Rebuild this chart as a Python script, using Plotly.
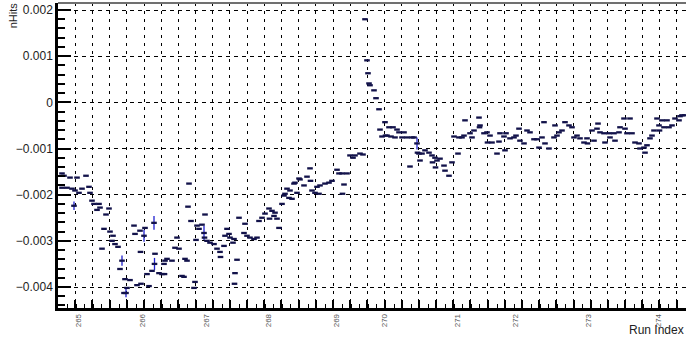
import plotly.graph_objects as go

# ---------------- data ----------------
run_index = [1.2, 1.2, 2.0, 3.2, 4.4, 5.2, 6.0, 6.4, 7.2, 8.0, 9.2, 10.8, 12.0, 12.4, 13.2, 14.0, 15.2, 16.0, 16.4,
             17.2, 18.0, 18.8, 20.0, 20.4, 21.2, 21.6, 22.4, 23.6, 24.4, 25.2, 26.0, 26.4, 26.8, 27.2, 28.4, 30.0,
             30.4, 31.2, 32.4, 32.6, 32.8, 34.0, 34.4, 35.2, 36.0, 37.2, 38.0, 38.2, 38.4, 40.0, 41.2, 42.0, 42.2,
             42.4, 43.2, 45.2, 46.4, 47.2, 48.0, 49.2, 50.0, 50.4, 51.2, 51.6, 52.0, 52.8, 54.0, 54.4, 54.8, 55.2,
             56.0, 57.2, 58.0, 58.2, 58.4, 59.2, 60.4, 62.0, 63.2, 64.4, 64.6, 66.0, 66.4, 67.2, 68.0, 68.4, 69.6,
             70.0, 70.2, 70.4, 71.2, 72.0, 74.0, 74.4, 75.2, 76.4, 78.0, 79.2, 80.0, 81.2, 82.4, 84.0, 84.2, 85.2,
             86.0, 86.4, 87.2, 88.0, 89.2, 90.0, 90.4, 91.2, 92.0, 92.4, 93.2, 94.0, 94.4, 95.2, 96.0, 96.4, 98.0,
             99.2, 100.4, 100.6, 101.2, 102.4, 103.2, 104.0, 104.4, 106.4, 108.0, 109.2, 111.2, 112.0, 113.2, 113.4,
             114.0, 115.2, 116.4, 117.6, 118.4, 120.4, 121.6, 122.4, 123.2, 123.6, 124.0, 124.4, 126.0, 126.8, 128.0,
             128.4, 129.2, 130.4, 130.6, 131.2, 132.0, 132.8, 133.6, 134.4, 135.2, 136.0, 137.2, 138.0, 139.2, 140.4,
             141.2, 142.0, 143.2, 143.4, 144.0, 144.4, 145.2, 146.4, 148.0, 149.2, 149.4, 150.4, 150.6, 151.2, 152.4,
             154.0, 154.4, 156.0, 157.2, 158.0, 159.6, 160.0, 161.2, 162.0, 162.4, 164.4, 165.2, 166.0, 168.0, 168.2,
             168.4, 170.0, 171.2, 171.4, 172.4, 173.2, 175.2, 176.0, 176.4, 178.0, 178.4, 178.8, 180.4, 182.0, 182.8,
             184.0, 184.4, 186.0, 187.2, 188.4, 190.0, 191.2, 192.0, 193.2, 194.0, 194.4, 196.0, 198.0, 198.4, 199.2,
             200.0, 201.2, 202.4, 204.0, 205.2, 206.0, 207.2, 208.4, 210.0, 211.2, 211.4, 213.2, 214.0, 215.2, 215.6,
             216.4, 218.0, 218.4, 220.0, 220.4, 222.0, 222.4, 224.0, 224.4, 226.0, 226.4, 227.2, 228.4, 229.2, 230.4,
             232.0, 232.4, 234.0, 234.4, 235.2, 236.4, 237.2, 238.0, 239.2, 240.0, 240.2, 241.2, 242.0, 243.2, 244.0,
             245.2, 246.4, 248.0, 248.4, 249.2, 250.4]

nhits = [-0.00154, -0.00185, -0.00159, -0.00185, -0.00163, -0.00187, -0.00224, -0.00191, -0.00163, -0.00196,
         -0.00187, -0.00159, -0.00183, -0.00196, -0.00213, -0.00220, -0.00233, -0.00220, -0.00228,
         -0.00317, -0.00274, -0.00243, -0.00230, -0.00280, -0.00300, -0.00289, -0.00307, -0.00313, -0.00361,
         -0.00343, -0.00413, -0.00383, -0.00413, -0.00402, -0.00385, -0.00267,
         -0.00285, -0.00396, -0.00278, -0.00324, -0.00393, -0.00289, -0.00272, -0.00372, -0.00398, -0.00365,
         -0.00261, -0.00350, -0.00328, -0.00370, -0.00372, -0.00350, -0.00372,
         -0.00343, -0.00339, -0.00343, -0.00315, -0.00293, -0.00317, -0.00376, -0.00378, -0.00339, -0.00343,
         -0.00226, -0.00176, -0.00257, -0.00402, -0.00389, -0.00298, -0.00267,
         -0.00274, -0.00265, -0.00283, -0.00293, -0.00243, -0.00300, -0.00304, -0.00307, -0.00317, -0.00324,
         -0.00335, -0.00311, -0.00289, -0.00274, -0.00285, -0.00293, -0.00304,
         -0.00296, -0.00393, -0.00370, -0.00341, -0.00250, -0.00283, -0.00263, -0.00289, -0.00293, -0.00296,
         -0.00293, -0.00257, -0.00250, -0.00241, -0.00230, -0.00252, -0.00235,
         -0.00246, -0.00239, -0.00252, -0.00272, -0.00220, -0.00202, -0.00198, -0.00187, -0.00207, -0.00191,
         -0.00209, -0.00176, -0.00174, -0.00196, -0.00165, -0.00167, -0.00180,
         -0.00161, -0.00143, -0.00170, -0.00191, -0.00196, -0.00183, -0.00198, -0.00180, -0.00176, -0.00174,
         -0.00170, -0.00146, -0.00154, -0.00154, -0.00198,
         -0.00178, -0.00154, -0.00115, -0.00120, -0.00115, -0.00111, -0.00113, 0.00180, 0.00091, 0.00063,
         0.00041, 0.00037, 0.00026, 0.00009, -0.00015,
         -0.00059, -0.00074, -0.00043, -0.00072, -0.00072, -0.00054, -0.00074, -0.00054, -0.00076, -0.00059,
         -0.00065, -0.00076, -0.00065, -0.00076, -0.00139,
         -0.00076, -0.00076, -0.00089, -0.00109, -0.00111, -0.00126, -0.00111, -0.00104, -0.00109, -0.00115,
         -0.00130, -0.00120, -0.00141, -0.00126, -0.00122,
         -0.00137, -0.00148, -0.00159, -0.00130, -0.00074, -0.00111, -0.00076, -0.00076, -0.00072, -0.00039,
         -0.00067, -0.00076, -0.00061, -0.00033, -0.00054,
         -0.00050, -0.00067, -0.00065, -0.00087, -0.00072, -0.00087, -0.00111, -0.00085, -0.00067, -0.00074,
         -0.00104, -0.00067, -0.00078, -0.00076, -0.00072,
         -0.00057, -0.00083, -0.00089, -0.00061, -0.00065, -0.00080, -0.00080, -0.00098, -0.00076, -0.00043,
         -0.00089, -0.00100, -0.00076, -0.00050, -0.00072,
         -0.00065, -0.00061, -0.00043, -0.00050, -0.00054, -0.00076, -0.00072, -0.00078, -0.00087, -0.00078,
         -0.00089, -0.00061, -0.00083, -0.00057, -0.00046,
         -0.00065, -0.00067, -0.00087, -0.00067, -0.00076, -0.00067, -0.00083, -0.00065, -0.00054, -0.00035,
         -0.00057, -0.00067, -0.00035, -0.00067, -0.00087,
         -0.00089, -0.00100, -0.00098, -0.00109, -0.00093, -0.00078, -0.00072, -0.00061, -0.00035, -0.00050,
         -0.00061, -0.00039, -0.00054, -0.00039, -0.00054,
         -0.00050, -0.00035, -0.00039, -0.00030, -0.00028, -0.00028]

assert len(run_index) == len(nhits), (len(run_index), len(nhits))

# runs carrying a visible vertical error bar
err_runs = [6.0, 25.2, 26.8, 34.0, 38.0, 38.2, 58.0, 143.2]
err_sizes = [0.00009, 0.00011, 0.00009, 0.00013, 0.00015, 0.00013, 0.00015, 0.00013]

# run-number bin labels
label_pos = [7.6, 33.2, 58.8, 83.6, 110.8, 130.0, 159.2, 182.4, 211.6, 239.6]
label_text = ["265", "266", "267", "268", "269", "270", "271", "272", "273", "274"]

y_tickvals = [0.002, 0.001, 0.0, -0.001, -0.002, -0.003, -0.004]
y_ticktext = ["0.002", "0.001", "0", "\u22120.001", "\u22120.002", "\u22120.003", "\u22120.004"]

# ---------------- figure ----------------
errors = [err_sizes[err_runs.index(r)] if r in err_runs else 0 for r in run_index]

FONT = "Liberation Sans, Arial, sans-serif"
X_RANGE = [-0.4, 250.8]
Y_RANGE = [-0.004455, 0.002152]
GRID_TICK0 = 6.52
GRID_DTICK = 6.872

fig = go.Figure()
fig.add_trace(go.Scatter(
    x=run_index, y=nhits, mode="markers", xaxis="x", yaxis="y",
    marker=dict(symbol="line-ew", size=4, color="#10103c",
                line=dict(color="#12124a", width=2.3)),
    error_y=dict(type="data", array=errors, visible=True, color="#1f1fd0",
                 thickness=1.3, width=0),
    hoverinfo="x+y", showlegend=False,
))

fig.update_layout(
    width=686, height=340,
    margin=dict(l=58, r=0, t=3, b=32),
    paper_bgcolor="white", plot_bgcolor="white",
    font=dict(family=FONT, color="#222"),
    xaxis=dict(
        range=X_RANGE, tickmode="array", tickvals=label_pos, ticktext=label_text,
        tickangle=-90, tickfont=dict(size=8, color="#555"), ticks="",
        showgrid=False, zeroline=False, showline=True, linecolor="black", linewidth=2.5,
    ),
    xaxis2=dict(
        range=X_RANGE, overlaying="x", side="bottom", anchor="y",
        tickmode="linear", tick0=GRID_TICK0, dtick=GRID_DTICK,
        showticklabels=False, ticks="inside", ticklen=8, tickwidth=1.6, tickcolor="black",
        minor=dict(ticks="inside", ticklen=4, tickwidth=1.3, tickcolor="black",
                   dtick=GRID_DTICK / 2, showgrid=False),
        showgrid=True, gridcolor="black", gridwidth=1, griddash="3px,5px",
        zeroline=False, showline=False,
    ),
    yaxis=dict(
        range=Y_RANGE, tickmode="array", tickvals=y_tickvals, ticktext=y_ticktext,
        tickfont=dict(size=12, color="#222"),
        ticks="inside", ticklen=13, tickwidth=2, tickcolor="black",
        minor=dict(ticks="inside", ticklen=7, tickwidth=1.8, tickcolor="black",
                   tickmode="linear", tick0=0, dtick=0.0002, showgrid=False),
        showgrid=True, gridcolor="black", gridwidth=1, griddash="4px,4px",
        zeroline=False, showline=True, linecolor="black", linewidth=2.5,
    ),
    shapes=[dict(type="line", xref="paper", yref="paper", x0=0, x1=1, y0=1, y1=1,
                 line=dict(color="#707070", width=2))],
    annotations=[
        dict(text="nHits", xref="paper", yref="paper", x=-0.072, y=1.008,
             xanchor="center", yanchor="top", textangle=-90, showarrow=False,
             font=dict(size=11, color="#222", family=FONT)),
        dict(text="Run Index", xref="paper", yref="paper", x=1.0, y=-0.072,
             xanchor="right", yanchor="middle", showarrow=False,
             font=dict(size=12, color="#222", family=FONT)),
    ],
)

# dummy trace so the overlaying grid axis is rendered
fig.add_trace(go.Scatter(x=[X_RANGE[0]], y=[Y_RANGE[0]], xaxis="x2", yaxis="y",
                         mode="markers", marker=dict(opacity=0), hoverinfo="skip",
                         showlegend=False))

fig.write_html("out.html", config={"displayModeBar": False},
               post_script="document.body.style.margin='0px';document.body.style.overflow='hidden';")
